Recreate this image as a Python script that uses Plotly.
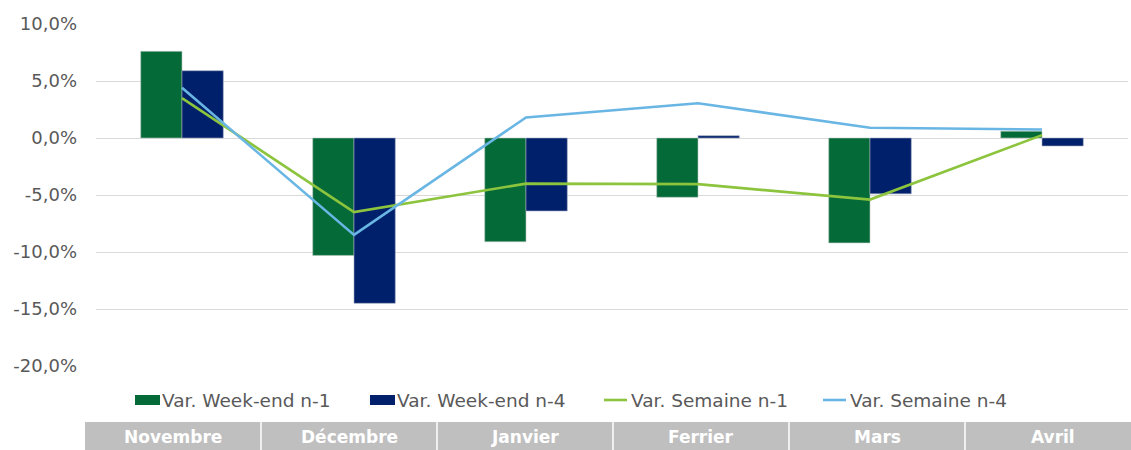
import plotly.graph_objects as go

categories = ["Novembre", "Décembre", "Janvier", "Ferrier", "Mars", "Avril"]
we_n1 = [7.6, -10.3, -9.1, -5.2, -9.2, 0.6]
we_n4 = [5.9, -14.5, -6.4, 0.2, -4.9, -0.7]
sem_n1 = [3.5, -6.5, -4.0, -4.05, -5.4, 0.25]
sem_n4 = [4.4, -8.5, 1.8, 3.05, 0.9, 0.75]
series_names = ["Var. Week-end n-1", "Var. Week-end n-4", "Var. Semaine n-1", "Var. Semaine n-4"]
y_ticks = [10, 5, 0, -5, -10, -15, -20]
y_ticktext = ["10,0%", "5,0%", "0,0%", "-5,0%", "-10,0%", "-15,0%", "-20,0%"]

GREEN = "#036A38"
NAVY = "#00206B"
LGREEN = "#8CC43E"
LBLUE = "#69B6E4"
GRAY_TXT = "#595959"
FONT = "DejaVu Sans"

fig = go.Figure()
fig.add_trace(go.Bar(x=categories, y=we_n1, name=series_names[0],
                     marker=dict(color=GREEN, line=dict(color="#B8C8C0", width=0.6))))
fig.add_trace(go.Bar(x=categories, y=we_n4, name=series_names[1],
                     marker=dict(color=NAVY, line=dict(color="#A0A8C0", width=0.6))))
fig.add_trace(go.Scatter(x=categories, y=sem_n1, name=series_names[2], mode="lines",
                         line=dict(color=LGREEN, width=2.6)))
fig.add_trace(go.Scatter(x=categories, y=sem_n4, name=series_names[3], mode="lines",
                         line=dict(color=LBLUE, width=2.6)))

W, H = 1131, 450
ml, mr, mt, mb = 96, 3, 24, 84
pw = W - ml - mr
ph = H - mt - mb

def px_x(px):
    return (px - ml) / pw

def px_y(py):
    return (H - mb - py) / ph

shapes = []
annotations = []

# Manual legend (swatch directly followed by text, as in the reference)
legend_items = [
    (series_names[0], GREEN, "rect", 135),
    (series_names[1], NAVY, "rect", 370),
    (series_names[2], LGREEN, "line", 604),
    (series_names[3], LBLUE, "line", 823),
]
leg_y = 400
for name, col, kind, x0 in legend_items:
    if kind == "rect":
        shapes.append(dict(type="rect", xref="paper", yref="paper",
                           x0=px_x(x0), x1=px_x(x0 + 25), y0=px_y(leg_y + 5), y1=px_y(leg_y - 5),
                           fillcolor=col, line=dict(width=0)))
    else:
        shapes.append(dict(type="line", xref="paper", yref="paper",
                           x0=px_x(x0), x1=px_x(x0 + 23), y0=px_y(leg_y), y1=px_y(leg_y),
                           line=dict(color=col, width=2.6)))
    annotations.append(dict(text=name, xref="paper", yref="paper",
                            x=px_x(x0 + 25), y=px_y(leg_y), xanchor="left", yanchor="middle",
                            showarrow=False, font=dict(family=FONT, size=18.5, color=GRAY_TXT)))

# Category band beneath the chart
band_left, band_cell = 85, 176
band_top, band_bot = 422, 455
shapes.append(dict(type="rect", xref="paper", yref="paper",
                   x0=px_x(band_left), x1=px_x(W + 5),
                   y0=px_y(band_bot), y1=px_y(band_top),
                   fillcolor="#BFBFBF", line=dict(width=0), layer="below"))
for i, cat in enumerate(categories):
    cx = band_left + band_cell * (i + 0.5)
    annotations.append(dict(text="<b>%s</b>" % cat, xref="paper", yref="paper",
                            x=px_x(cx), y=px_y(437), xanchor="center", yanchor="middle",
                            showarrow=False,
                            font=dict(family=FONT, size=17, color="white")))
    if i > 0:
        sx = band_left + band_cell * i
        shapes.append(dict(type="line", xref="paper", yref="paper",
                           x0=px_x(sx), x1=px_x(sx),
                           y0=px_y(band_bot), y1=px_y(band_top),
                           line=dict(color="white", width=1.5)))

fig.update_layout(
    width=W, height=H,
    margin=dict(l=ml, r=mr, t=mt, b=mb, autoexpand=False),
    paper_bgcolor="white", plot_bgcolor="white",
    barmode="group", bargap=0.52, bargroupgap=0,
    font=dict(family=FONT, color=GRAY_TXT),
    showlegend=False,
    xaxis=dict(showticklabels=False, showgrid=False, zeroline=False, showline=False, ticks=""),
    yaxis=dict(range=[-20, 10], tickvals=y_ticks, ticktext=y_ticktext,
               showgrid=True, gridcolor="#D9D9D9", gridwidth=1, zeroline=False,
               showline=False, ticks="", ticklabelstandoff=18,
               tickfont=dict(family=FONT, size=18, color=GRAY_TXT)),
    shapes=shapes, annotations=annotations,
)

fig.write_html("out.html", config={"displayModeBar": False},
               post_script="document.body.style.margin='0';document.body.style.overflow='hidden';")
